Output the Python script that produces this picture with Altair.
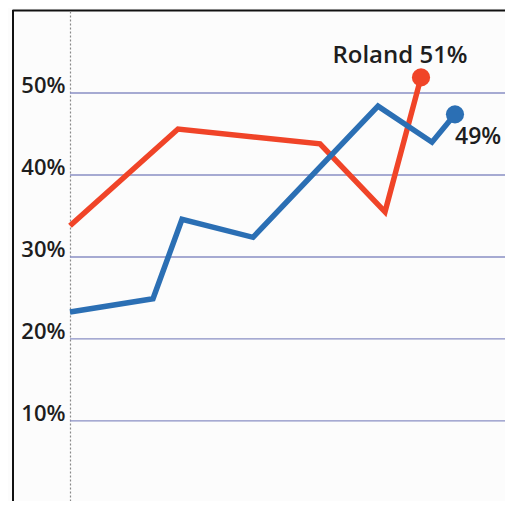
import altair as alt
import pandas as pd

# Data (x is an arbitrary time index)
red_t = [0, 10.8, 25.0, 31.5, 35.1]
red_v = [33.8, 45.6, 43.8, 35.5, 51.9]
blue_t = [0, 8.3, 11.2, 18.3, 30.8, 36.2, 38.5]
blue_v = [23.3, 24.9, 34.6, 32.4, 48.4, 44.0, 47.4]
series = ["Roland", "Autre"]
end_labels = ["Roland 51%", "49%"]
y_ticks = [10, 20, 30, 40, 50]
t_range = [0, 43.5]

RED = "#f04428"
BLUE = "#2b6fb4"

df = pd.concat([
    pd.DataFrame({"t": red_t, "v": red_v, "s": series[0]}),
    pd.DataFrame({"t": blue_t, "v": blue_v, "s": series[1]}),
])
ends = pd.DataFrame({
    "t": [red_t[-1], blue_t[-1]],
    "v": [red_v[-1], blue_v[-1]],
    "s": series,
    "label": end_labels,
})
grid = pd.DataFrame({"v": y_ticks, "t0": t_range[0], "t1": t_range[1]})

W, H = 493, 491
t_dom = [-5.8, 43.5]
v_dom = [0.24, 60.12]
xs = alt.Scale(domain=t_dom, nice=False, zero=False)
ys = alt.Scale(domain=v_dom, nice=False, zero=False)
col = alt.Scale(domain=series, range=[RED, BLUE])

gridlines = alt.Chart(grid).mark_rule(color="#8a8fc4", strokeWidth=1.3).encode(
    x=alt.X("t0:Q", scale=xs, axis=alt.Axis(
        orient="top", labels=False, ticks=False, grid=False, title=None,
        domain=True, domainColor="#111111", domainWidth=2)),
    x2="t1:Q",
    y=alt.Y("v:Q", scale=ys, axis=alt.Axis(
        values=y_ticks, labelExpr="datum.value + '%'", title=None, offset=-58,
        ticks=False, labelPadding=5, labelBaseline="alphabetic",
        labelAlign="right", labelFont="Open Sans", labelFontSize=22,
        labelFontWeight=600, labelColor="#1e1e1e", grid=False,
        domain=True, domainColor="#8a8a8a", domainDash=[2, 2], domainWidth=1.2)),
)

lines = alt.Chart(df).mark_line(strokeWidth=5.5, strokeJoin="miter", clip=True).encode(
    x=alt.X("t:Q", scale=xs),
    y=alt.Y("v:Q", scale=ys),
    color=alt.Color("s:N", scale=col, legend=None),
    detail="s:N",
)

dots = alt.Chart(ends).mark_circle(size=330, opacity=1).encode(
    x=alt.X("t:Q", scale=xs), y=alt.Y("v:Q", scale=ys),
    color=alt.Color("s:N", scale=col, legend=None),
)

lab_red = alt.Chart(ends[ends.s == series[0]]).mark_text(
    font="Open Sans", fontSize=24, fontWeight=600, color="#1e1e1e",
    align="center", baseline="alphabetic", dx=-21, dy=-14,
).encode(x=alt.X("t:Q", scale=xs), y=alt.Y("v:Q", scale=ys), text="label:N")

lab_blue = alt.Chart(ends[ends.s == series[1]]).mark_text(
    font="Open Sans", fontSize=23, fontWeight=600, color="#1e1e1e",
    align="left", baseline="alphabetic", dx=0, dy=30,
).encode(x=alt.X("t:Q", scale=xs), y=alt.Y("v:Q", scale=ys), text="label:N")

edge = pd.DataFrame({"t": [t_dom[0] + 0.1, t_dom[0] + 0.1], "v": v_dom})
frame_left = alt.Chart(edge).mark_line(color="#111", strokeWidth=2).encode(
    x=alt.X("t:Q", scale=xs), y=alt.Y("v:Q", scale=ys))

chart = alt.layer(gridlines, lines, dots, lab_red, lab_blue, frame_left).properties(
    width=W, height=H,
    padding={"left": 4, "top": 2, "right": 0, "bottom": 0},
    autosize=alt.AutoSizeParams(type="none"),
    background="#fcfcfc",
).configure_view(stroke=None)

chart.save("out.html", embed_options={"renderer": "svg", "actions": False})
